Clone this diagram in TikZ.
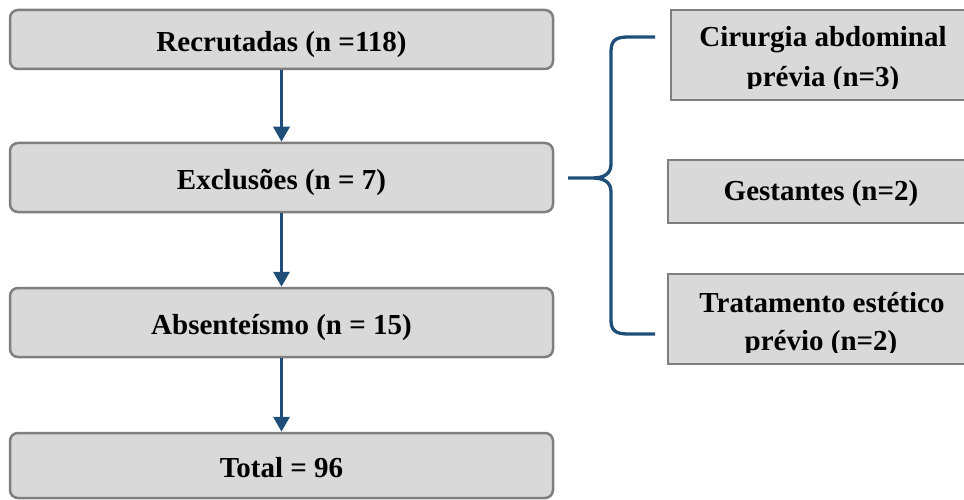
\documentclass[tikz,border=0pt]{standalone}
\usepackage{fontspec}
\setmainfont{Liberation Serif}
\usetikzlibrary{arrows.meta}
\definecolor{boxfill}{HTML}{D9D9D9}
\definecolor{boxline}{HTML}{7F7F7F}
\definecolor{arrowblue}{HTML}{1F4E79}
\begin{document}
\begin{tikzpicture}[x=1pt,y=-1pt,
  txt/.style={font=\fontsize{29}{33}\selectfont\bfseries},
  leftbox/.style={draw=boxline, line width=2.5pt, fill=boxfill, rounded corners=8pt,
    minimum width=543pt, inner sep=0pt, txt, text height=24pt, text depth=0pt},
  rightbox/.style={draw=boxline, line width=2pt, fill=boxfill, inner sep=0pt},
  linetext/.style={txt, inner sep=0pt, anchor=base},
  flow/.style={draw=arrowblue, line width=3.5pt, -{Triangle[width=16pt,length=15pt]}},
  bracestyle/.style={draw=arrowblue, line width=3.3pt}]
\clip (0,0) rectangle (964,500);
% left column
\node[leftbox, minimum height=59pt] (b1) at (281.5,39.5) {Recrutadas (n =118)};
\node[leftbox, minimum height=69pt] (b2) at (281.5,177.5) {Exclusões (n = 7)};
\node[leftbox, minimum height=69pt] (b3) at (281.5,322.5) {Absenteísmo (n = 15)};
\node[leftbox, minimum height=65pt] (b4) at (281.5,465.5) {Total = 96};
\draw[flow] (b1.south) -- (b2.north);
\draw[flow] (b2.south) -- (b3.north);
\draw[flow] (b3.south) -- (b4.north);
% right column
\node[rightbox, minimum width=304pt, minimum height=90pt] (ra) at (823,55) {};
\node[rightbox, minimum width=306pt, minimum height=63pt] (rb) at (821,191.5) {};
\node[rightbox, minimum width=306pt, minimum height=90pt] (rc) at (821,319) {};
\begin{scope}
  \clip (ra.north west) rectangle (975,88.5);
  \node[linetext] (ra1) at (823,47) {Cirurgia abdominal};
  \node[linetext] (ra2) at (823,87) {prévia (n=3)};
\end{scope}
\node[linetext] (rbt) at (821,200.5) {Gestantes (n=2)};
\begin{scope}
  \clip (rc.north west) rectangle (975,352.5);
  \node[linetext] (rc1) at (822,312.5) {Tratamento estético};
  \node[linetext] (rc2) at (821,350.5) {prévio (n=2)};
\end{scope}
% brace
\draw[bracestyle] (655,37) -- (628,37) .. controls (615,37) and (611,41) .. (611,52)
  -- (611,164) .. controls (611,174) and (604,178) .. (592,178) -- (568,178)
  (568,178) -- (592,178) .. controls (604,178) and (611,182) .. (611,192)
  -- (611,320) .. controls (611,330) and (615,334) .. (628,334) -- (655,334);
\end{tikzpicture}
\end{document}
